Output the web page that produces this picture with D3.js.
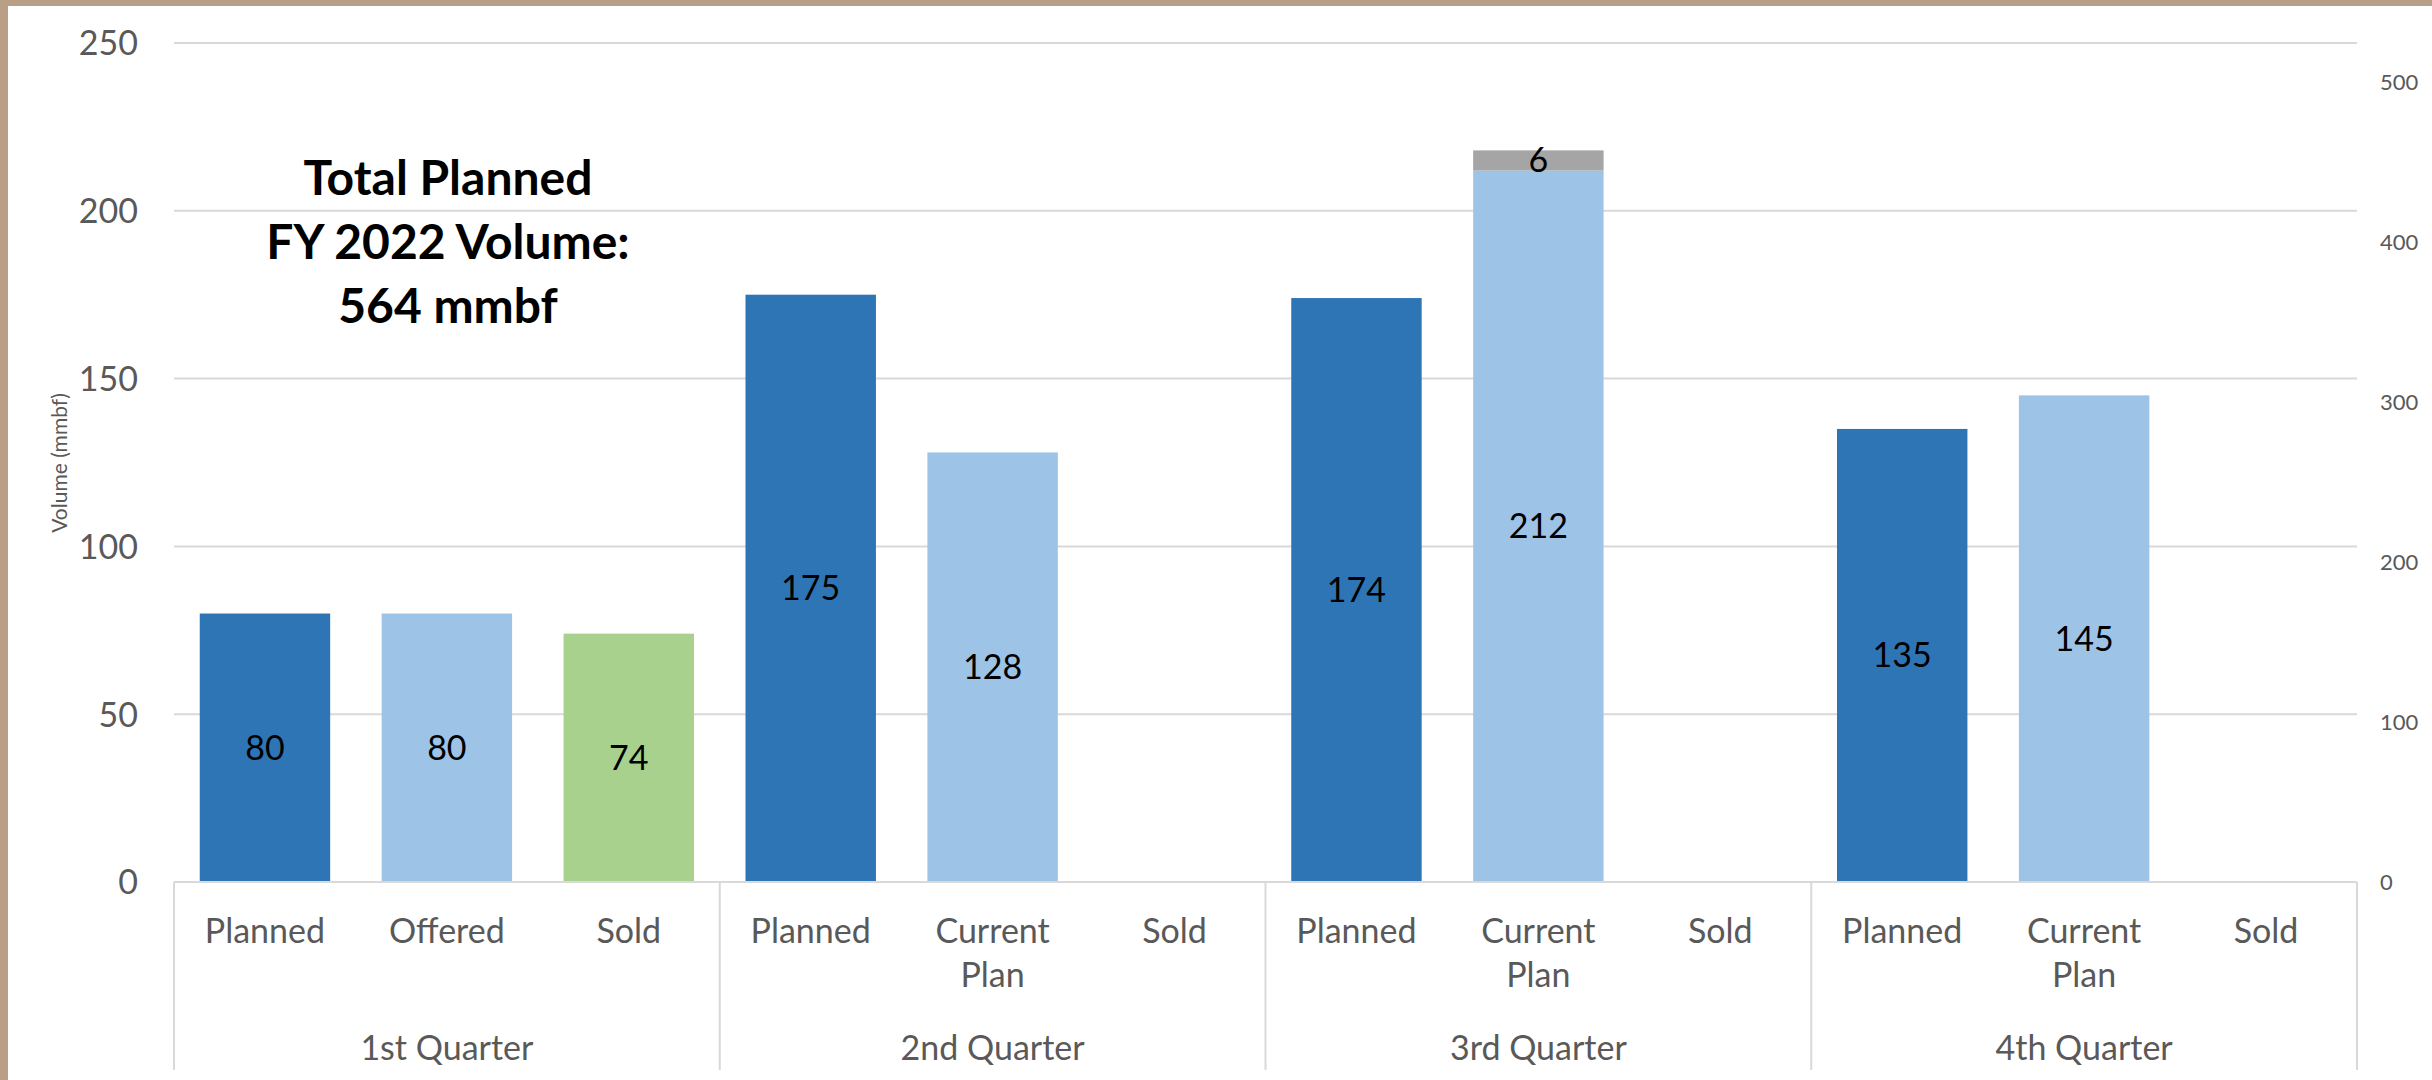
<!DOCTYPE html>
<html>
<head>
<meta charset="utf-8">
<script src="https://cdn.jsdelivr.net/npm/d3@7"></script>
<style>
  html, body { margin: 0; padding: 0; background: #fff; }
  svg { display: block; }
  text { font-family: Lato, "Open Sans", "DejaVu Sans", sans-serif; }
</style>
</head>
<body>
<svg id="chart" width="2432" height="1080"></svg>
<script>
// ---- data ----
const quarters = ["1st Quarter", "2nd Quarter", "3rd Quarter", "4th Quarter"];
const slotLabels = [
  ["Planned", "Offered", "Sold"],
  ["Planned", "Current Plan", "Sold"],
  ["Planned", "Current Plan", "Sold"],
  ["Planned", "Current Plan", "Sold"]
];
const plannedValues = [80, 175, 174, 135];
const currentValues = [80, 128, 212, 145];   // Q1 = Offered
const additionalValues = [0, 0, 6, 0];       // grey addition on top of current plan
const soldValues = [74, null, null, null];
const leftTicks = [0, 50, 100, 150, 200, 250];
const rightTicks = [0, 100, 200, 300, 400, 500];
const titleLines = ["Total Planned", "FY 2022 Volume:", "564 mmbf"];

// ---- layout ----
const W = 2432, H = 1080;
const plotL = 174, plotR = 2357, plotT = 43, plotB = 882;
const colors = { planned: "#2E75B6", current: "#9DC3E6", sold: "#A9D18E", extra: "#A5A5A5" };
const grid = "#D9D9D9";

const svg = d3.select("#chart");

// border
svg.append("rect").attr("x", 0).attr("y", 0).attr("width", W).attr("height", 6).attr("fill", "#B89F86");
svg.append("rect").attr("x", 0).attr("y", 0).attr("width", 8).attr("height", H).attr("fill", "#B89F86");

// slots
const slots = [];
quarters.forEach((q, qi) => {
  slotLabels[qi].forEach((lab, si) => slots.push({ key: qi + "-" + si, qi, si, label: lab }));
});

const x = d3.scaleBand().domain(slots.map(d => d.key)).range([plotL, plotR])
  .paddingInner(0.283).paddingOuter(0.1415);
const y = d3.scaleLinear().domain([0, 250]).range([plotB, plotT]);
const y2 = d3.scaleLinear().domain([0, 500]).range([plotB, 82]);

// gridlines
svg.append("g").selectAll("line").data(leftTicks).join("line")
  .attr("x1", plotL).attr("x2", plotR)
  .attr("y1", d => y(d)).attr("y2", d => y(d))
  .attr("stroke", grid).attr("stroke-width", 2);

// left axis labels
const leftAxis = d3.axisLeft(y).tickValues(leftTicks).tickSize(0).tickPadding(0);
const gl = svg.append("g").attr("transform", "translate(138,0)").call(leftAxis);
gl.select(".domain").remove();
gl.selectAll("text").attr("font-size", 34).attr("fill", "#595959")
  .attr("font-family", "Lato, sans-serif").attr("dy", "0.35em");

// right axis labels
const rightAxis = d3.axisRight(y2).tickValues(rightTicks).tickSize(0).tickPadding(0);
const gr = svg.append("g").attr("transform", "translate(2380,0)").call(rightAxis);
gr.select(".domain").remove();
gr.selectAll("text").attr("font-size", 22).attr("fill", "#595959")
  .attr("font-family", "Lato, sans-serif").attr("dy", "0.35em");

// y axis title
svg.append("text").attr("transform", "translate(67,463) rotate(-90)")
  .attr("text-anchor", "middle").attr("font-size", 21).attr("fill", "#595959")
  .text("Volume (mmbf)");

// bars
const bars = [];
quarters.forEach((q, qi) => {
  bars.push({ key: qi + "-0", y0: 0, y1: plannedValues[qi], v: plannedValues[qi], c: colors.planned });
  bars.push({ key: qi + "-1", y0: 0, y1: currentValues[qi], v: currentValues[qi], c: colors.current });
  if (additionalValues[qi]) {
    bars.push({ key: qi + "-1", y0: currentValues[qi], y1: currentValues[qi] + additionalValues[qi], v: additionalValues[qi], c: colors.extra });
  }
  if (soldValues[qi] != null) {
    bars.push({ key: qi + "-2", y0: 0, y1: soldValues[qi], v: soldValues[qi], c: colors.sold });
  }
});

svg.append("g").selectAll("rect").data(bars).join("rect")
  .attr("x", d => x(d.key)).attr("width", x.bandwidth())
  .attr("y", d => y(d.y1)).attr("height", d => y(d.y0) - y(d.y1))
  .attr("fill", d => d.c);

svg.append("g").selectAll("text").data(bars).join("text")
  .attr("x", d => x(d.key) + x.bandwidth() / 2)
  .attr("y", d => (y(d.y0) + y(d.y1)) / 2)
  .attr("dy", "0.35em").attr("text-anchor", "middle")
  .attr("font-size", 34).attr("fill", "#000")
  .text(d => d.v);

// category axis
svg.append("line").attr("x1", plotL).attr("x2", plotR).attr("y1", plotB).attr("y2", plotB)
  .attr("stroke", grid).attr("stroke-width", 2);
const sepX = [0, 1, 2, 3].map(qi => x(qi + "-0") - x.step() * x.paddingOuter());
sepX.push(plotR);
svg.append("g").selectAll("line").data(sepX).join("line")
  .attr("x1", d => d).attr("x2", d => d).attr("y1", plotB).attr("y2", 1070)
  .attr("stroke", grid).attr("stroke-width", 2);

const catText = svg.append("g").selectAll("text").data(slots).join("text")
  .attr("text-anchor", "middle").attr("font-size", 34).attr("fill", "#595959")
  .attr("transform", d => `translate(${x(d.key) + x.bandwidth() / 2},943)`);
catText.selectAll("tspan").data(d => d.label.split(" ")).join("tspan")
  .attr("x", 0).attr("y", (d, i) => i * 44).text(d => d);

svg.append("g").selectAll("text").data(quarters).join("text")
  .attr("text-anchor", "middle").attr("font-size", 34).attr("fill", "#595959")
  .attr("x", (d, i) => (sepX[i] + sepX[i + 1]) / 2).attr("y", 1060)
  .text(d => d);

// annotation
svg.append("g").selectAll("text").data(titleLines).join("text")
  .attr("x", 448).attr("y", (d, i) => 195 + i * 64)
  .attr("text-anchor", "middle").attr("font-size", 48).attr("font-weight", "bold")
  .attr("fill", "#000").text(d => d);
</script>
</body>
</html>
